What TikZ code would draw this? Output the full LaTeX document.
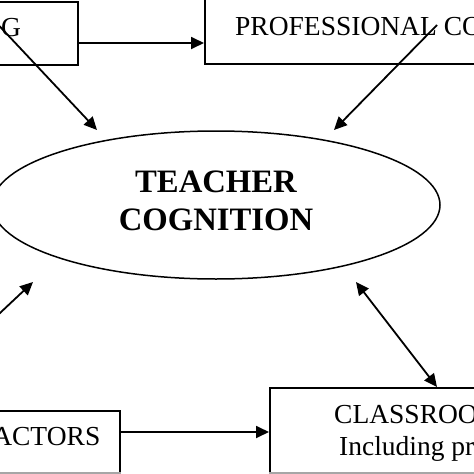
\documentclass[tikz,border=0pt]{standalone}
\usepackage{fontspec}
\setmainfont{Liberation Serif}
\usetikzlibrary{arrows.meta,shapes.geometric}
\begin{document}
\begin{tikzpicture}[x=1pt,y=-1pt,
  box/.style={draw,line width=1.5pt,rectangle,inner sep=0pt,anchor=north west},
  arr/.style={line width=1.8pt,-{Triangle[length=13pt,width=12pt]}},
  darr/.style={line width=1.8pt,{Triangle[length=13pt,width=12pt]}-{Triangle[length=13pt,width=12pt]}},
  lbl/.style={font=\fontsize{27.5}{33}\selectfont,inner sep=0pt},
  big/.style={font=\fontsize{32.7}{38}\selectfont\bfseries,inner sep=0pt,anchor=base},
  edge/.style={line width=1.6pt,draw=black!35},
]
\useasboundingbox (0,0) rectangle (474,474);
\clip (0,0) rectangle (474,474);
\fill[white] (0,0) rectangle (474,474);
% boxes
\node[box,minimum width=277pt,minimum height=63pt] (school) at (-200,1) {};
\node[box,minimum width=400pt,minimum height=73pt] (prof) at (204,-10) {};
\node[box,minimum width=319pt,minimum height=80pt] (context) at (-200,410) {};
\node[box,minimum width=300pt,minimum height=110pt] (class) at (269,387) {};
\draw[edge] (context.west |- 0,473) -- (context.east |- 0,473);
\draw[edge] (class.west |- 0,473) -- (class.east |- 0,473);
% ellipse
\node[draw,ellipse,line width=1.5pt,inner sep=0pt,minimum width=448pt,minimum height=148pt] (tc) at (216,205) {};
% texts
\node[lbl,anchor=base west] (tg) at (1,36) {G};
\node[lbl,anchor=base west] (tp) at (235,35) {PROFESSIONAL CO};
\node[big] (t1) at (216,192) {TEACHER};
\node[big] (t2) at (216,230) {COGNITION};
\node[lbl,anchor=base east] (ta) at (100.5,445) {ACTORS};
\node[lbl,anchor=base west] (tc1) at (334,423) {CLASSROO};
\node[lbl,anchor=base west] (tc2) at (339,455) {Including pr};
% connector end points
\coordinate (s1) at (-10,16);
\coordinate (s2) at (97,130);
\coordinate (p1) at (437,25);
\coordinate (p2) at (334,130);
\coordinate (c1) at (-10,322.4);
\coordinate (c2) at (33,282);
\coordinate (d1) at (356,282);
\coordinate (d2) at (437,387);
% connectors
\draw[arr] (school.east |- 0,43) -- (prof.west |- 0,43);
\draw[arr] (s1) -- (s2);
\draw[arr] (p1) -- (p2);
\draw[arr] (c1) -- (c2);
\draw[darr] (d1) -- (d2);
\draw[arr] (context.east |- 0,432) -- (class.west |- 0,432);
\end{tikzpicture}
\end{document}
